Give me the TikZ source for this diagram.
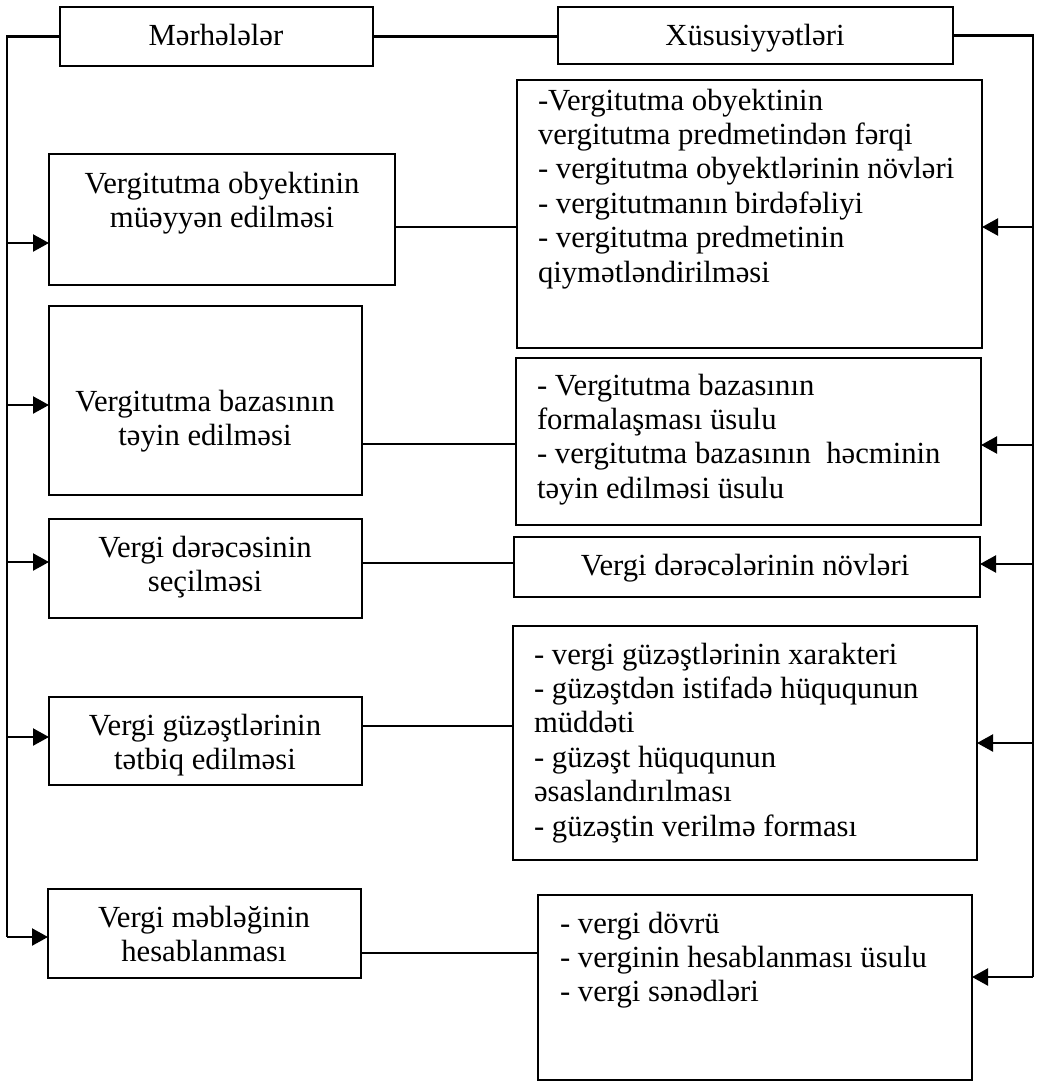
\documentclass[tikz,border=0pt]{standalone}
\usepackage{fontspec}
\setmainfont{Liberation Serif}
\usetikzlibrary{arrows.meta}
\newcommand{\Ltab}[1]{\begin{tabular}[t]{@{}l@{}}#1\end{tabular}}
\newcommand{\Ctab}[1]{\begin{tabular}[t]{@{}c@{}}#1\end{tabular}}
\newcommand{\boxnode}[5]{\node[boxst, minimum width={(#4-#2)*0.5pt}, minimum height={(#5-#3)*0.5pt}] (#1) at ({(#2+#4)/2},{(#3+#5)/2}) {};}
\tikzset{
  boxst/.style={draw, line width=1.3pt, inner sep=0pt, outer sep=0pt, rectangle},
  txtc/.style={inner sep=0pt, outer sep=0pt, anchor=base, font=\fontsize{15.35}{17.2}\selectfont},
  txtl/.style={inner sep=0pt, outer sep=0pt, anchor=base west, font=\fontsize{15.35}{17.2}\selectfont},
  conn/.style={line width=1.1pt},
  arr/.style={line width=1.1pt, -{Triangle[length=8pt,width=8.5pt]}}
}
\begin{document}
\begin{tikzpicture}[x=0.5pt,y=-0.5pt]
\useasboundingbox (0,0) rectangle (1044,1083);
% boxes
\boxnode{M}{60}{7}{373}{66}
\boxnode{X}{558}{7}{953}{64}
\boxnode{L1}{49}{154}{395}{285}
\boxnode{L2}{49}{306}{362}{495}
\boxnode{L3}{49}{519}{362}{618}
\boxnode{L4}{49}{697}{362}{785}
\boxnode{L5}{48}{889}{361}{978}
\boxnode{R1}{517}{80}{982}{348}
\boxnode{R2}{516}{358}{981}{525}
\boxnode{R3}{514}{537}{980}{597}
\boxnode{R4}{513}{626}{977}{860}
\boxnode{R5}{538}{895}{972}{1080}
% texts
\node[txtc] (Mt) at (216,45) {Mərhələlər};
\node[txtc] (Xt) at (755,45) {Xüsusiyyətləri};
\node[txtc] (L1t) at (222,193) {\Ctab{Vergitutma obyektinin\\müəyyən edilməsi}};
\node[txtc] (L2t) at (205,411) {\Ctab{Vergitutma bazasının\\təyin edilməsi}};
\node[txtc] (L3t) at (205,557) {\Ctab{Vergi dərəcəsinin\\seçilməsi}};
\node[txtc] (L4t) at (205,735) {\Ctab{Vergi güzəştlərinin\\tətbiq edilməsi}};
\node[txtc] (L5t) at (204,927) {\Ctab{Vergi məbləğinin\\hesablanması}};
\node[txtl] (R1t) at (538,110) {\Ltab{-Vergitutma obyektinin\\vergitutma predmetindən fərqi\\- vergitutma obyektlərinin növləri\\- vergitutmanın birdəfəliyi\\- vergitutma predmetinin\\qiymətləndirilməsi}};
\node[txtl] (R2t) at (537,395) {\Ltab{- Vergitutma bazasının\\formalaşması üsulu\\- vergitutma bazasının\ \ həcminin\\təyin edilməsi üsulu}};
\node[txtc] (R3t) at (745,575) {Vergi dərəcələrinin növləri};
\node[txtl] (R4t) at (534,664) {\Ltab{- vergi güzəştlərinin xarakteri\\- güzəştdən istifadə hüququnun\\müddəti\\- güzəşt hüququnun\\əsaslandırılması\\- güzəştin verilmə forması}};
\node[txtl] (R5t) at (560,933) {\Ltab{- vergi dövrü\\- verginin hesablanması üsulu\\- vergi sənədləri}};
% bus coordinates
\coordinate (lbe) at (7,937);
\coordinate (rbe) at (1033,977);
\draw[conn] (M.west) -| (lbe);
\draw[conn] (M.east) -- (M.east -| X.west);
\draw[conn] (X.east) -| (rbe);
% left arrows
\foreach \n/\y in {L1/243, L2/405, L3/562, L4/737, L5/937} {
  \draw[arr] (7,\y) -- (\n.west |- 0,\y);
}
% right arrows
\foreach \n/\y in {R1/227, R2/445, R3/564, R4/743, R5/977} {
  \draw[arr] (1033,\y) -- (\n.east |- 0,\y);
}
% connectors
\foreach \a/\b/\y in {L1/R1/227, L2/R2/444, L3/R3/563, L4/R4/726, L5/R5/953} {
  \draw[conn] (\a.east |- 0,\y) -- (\b.west |- 0,\y);
}
\end{tikzpicture}
\end{document}
